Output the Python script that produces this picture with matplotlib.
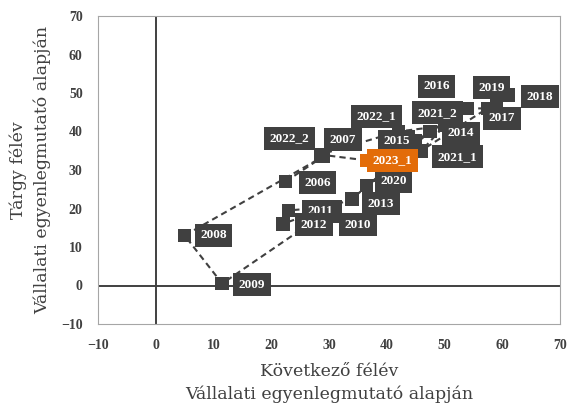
import matplotlib
matplotlib.use("Agg")
import matplotlib.pyplot as plt

# periods in chronological order
periods = ["2006", "2007", "2008", "2009", "2010", "2011", "2012", "2013",
           "2014", "2015", "2016", "2017", "2018", "2019", "2020",
           "2021_1", "2021_2", "2022_1", "2022_2", "2023_1"]
# Következő félév (x) / Tárgy félév (y)
next_term = [22.5, 29.0, 5.0, 11.5, 31.0, 23.0, 22.0, 34.0,
             47.5, 45.0, 54.0, 57.5, 61.0, 59.0, 36.5,
             46.0, 50.0, 42.0, 28.5, 36.5]
this_term = [27.0, 33.5, 13.0, 0.5, 20.5, 19.5, 16.0, 22.5,
             40.0, 37.5, 46.0, 46.0, 49.5, 47.5, 26.0,
             35.0, 41.5, 40.0, 34.0, 32.5]

xticks = [-10, 0, 10, 20, 30, 40, 50, 60, 70]
yticks = [-10, 0, 10, 20, 30, 40, 50, 60, 70]

# label offsets in pixels (moved by hand in the original)
offsets = [(32, -1), (20, 17), (29, 0), (30, -1), (23, -18), (32, -1), (31, -1), (29, -5),
           (31, -2), (-19, 0), (-31, 22), (14, -10), (32, -2), (-5, 15), (27, 4),
           (36, -6), (-7, 13), (-22, 15), (-31, 16), (26, 0)]

dark = "#404040"
orange = "#e36c09"

fig = plt.figure(figsize=(5.68, 4.12), dpi=100)
ax = fig.add_axes([98/568, 1-324/412, 462/568, 308/412])

ax.axhline(0, color=dark, lw=1.4, zorder=1)
ax.axvline(0, color=dark, lw=1.4, zorder=1)

ax.plot(next_term, this_term, color=dark, lw=1.5, dashes=(3, 2), zorder=2)
cols = [orange if p == "2023_1" else dark for p in periods]
ax.scatter(next_term, this_term, marker="s", s=95, c=cols, zorder=3, linewidths=0)

for p, x, y, off, c in zip(periods, next_term, this_term, offsets, cols):
    ax.annotate(p, (x, y), xytext=off, textcoords="offset pixels",
                ha="center", va="center", color="white", fontsize=9.5,
                fontweight="bold", family="Liberation Serif", zorder=4,
                bbox=dict(boxstyle="square,pad=0.42", fc=c, ec="none"))

ax.set_xlim(-10, 70)
ax.set_ylim(-10, 70)
ax.set_xticks(xticks)
ax.set_yticks(yticks)
ax.tick_params(length=0, pad=11, labelsize=10, colors=dark)
for lab in ax.get_xticklabels() + ax.get_yticklabels():
    lab.set_family("Liberation Serif")
    lab.set_fontweight("bold")
for s in ax.spines.values():
    s.set_color("#a6a6a6")
    s.set_linewidth(0.8)

fig.text(329/568, 1-383/412, "Következő félév\nVállalati egyenlegmutató alapján",
         ha="center", va="center", fontsize=12.5, family="DejaVu Serif",
         color=dark, linespacing=1.4)
fig.text(30/568, 1-170/412, "Tárgy félév\nVállalati egyenlegmutató alapján",
         ha="center", va="center", rotation=90, fontsize=12.5, family="DejaVu Serif",
         color=dark, linespacing=1.5)

fig.savefig("out.png", dpi=100)
